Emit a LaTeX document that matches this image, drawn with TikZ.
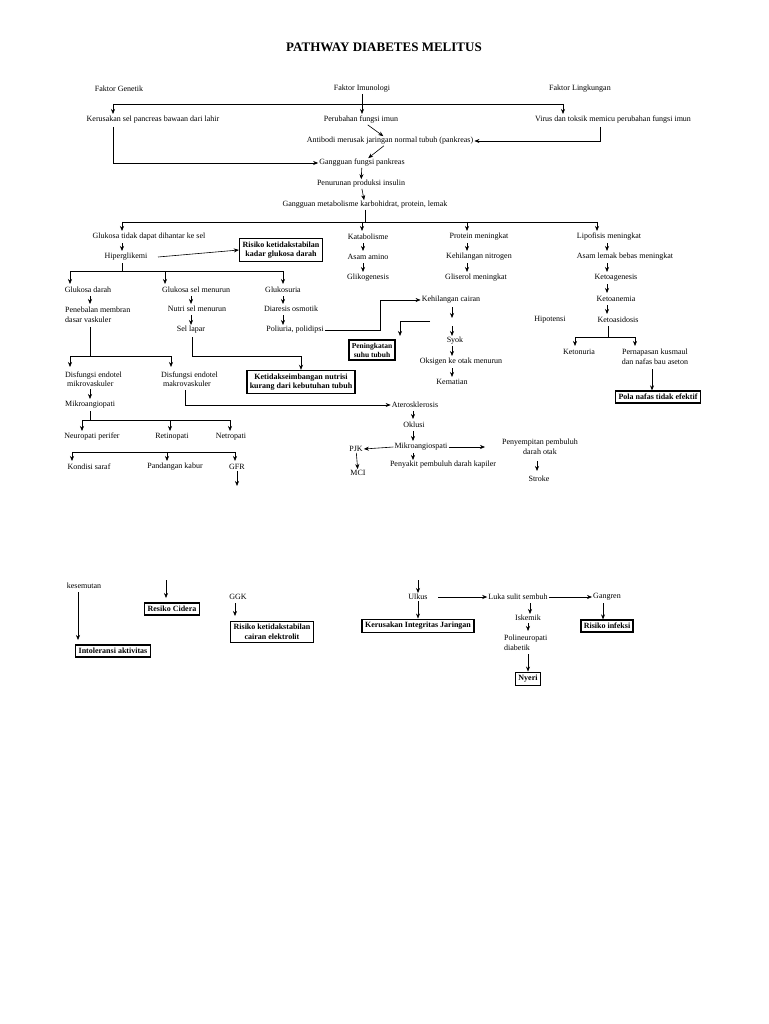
\documentclass[tikz,border=0pt]{standalone}
\usepackage{fontspec}
\setmainfont{Liberation Serif}
\usetikzlibrary{arrows.meta}
\begin{document}
\begin{tikzpicture}[x=1pt,y=-1pt,
  t/.style={font=\fontsize{8}{9.5}\selectfont,inner sep=1pt,align=center},
  tl/.style={t,anchor=west,align=left},
  bx/.style={draw,line width=1.6pt,font=\bfseries\fontsize{8}{9.5}\selectfont,align=center,inner sep=3pt},
  ar/.style={-{Stealth[length=5pt,width=4pt]},line width=0.6pt},
  ln/.style={line width=0.6pt}]
\useasboundingbox[fill=white] (0,0) rectangle (768,1024);
\node[font=\bfseries\fontsize{13}{15}\selectfont] (title) at (384,47) {PATHWAY DIABETES MELITUS};
% top
\node[t] (fg) at (119,89) {Faktor Genetik};
\node[t] (fi) at (362,89) {Faktor Imunologi};
\node[t] (fl) at (580,89) {Faktor Lingkungan};
\node[t] (ker) at (153,120) {Kerusakan sel pancreas bawaan dari lahir};
\node[t] (pfi) at (361,120) {Perubahan fungsi imun};
\node[t] (vir) at (613,120) {Virus dan toksik memicu perubahan fungsi imun};
\node[t] (anti) at (390,141) {Antibodi merusak jaringan normal tubuh (pankreas)};
\node[t] (gfp) at (362,163) {Gangguan fungsi pankreas};
\node[t] (ppi) at (361,184) {Penurunan produksi insulin};
\node[t] (gm) at (365,205) {Gangguan metabolisme karbohidrat, protein, lemak};
\coordinate (h1) at (113,104); \coordinate (h2) at (563,104);
\draw[ln] (h1) -- (h2);
\draw[ar] (h1) -- (113,114);
\draw[ar] (fi) -- (362,114);
\draw[ar] (h2) -- (563,114);
\draw[ar] (113,127) |- (gfp.west);
\draw[ar] (600,127) |- (anti.east);
\draw[ar] (pfi) -- (anti);
\draw[ar] (anti) -- (gfp);
\draw[ar] (gfp) -- (ppi);
\draw[ar] (ppi) -- (gm);
\draw[ln] (gm.south) -- (365,222);
\draw[ln] (122,222) -- (597,222);
% left branch
\node[t] (gtd) at (149,237) {Glukosa tidak dapat dihantar ke sel};
\node[t] (hip) at (126,257) {Hiperglikemi};
\node[bx] (rkg) at (281,250) {Risiko ketidakstabilan\\kadar glukosa darah};
\draw[ar] (122,222) -- (122,231);
\draw[ar] (122,243) -- (122,251);
\draw[ar] (158,257) -- (rkg.west);
\draw[ln] (122,263) -- (122,271);
\draw[ln] (70,271) -- (283,271);
\node[t] (gd) at (88,290) {Glukosa darah};
\node[t] (gsm) at (196,290) {Glukosa sel menurun};
\node[t] (gsu) at (283,290) {Glukosuria};
\draw[ar] (70,271) -- (70,284);
\draw[ar] (165,271) -- (165,284);
\draw[ar] (283,271) -- (283,284);
\node[tl] (pen) at (64,315) {Penebalan membran\\dasar vaskuler};
\node[t] (nsm) at (197,309) {Nutri sel menurun};
\node[t] (sl) at (191,330) {Sel lapar};
\node[t] (dos) at (291,309) {Diaresis osmotik};
\node[t] (pol) at (295,330) {Poliuria, polidipsi};
\draw[ar] (90,296) -- (90,304);
\draw[ar] (191,296) -- (191,304);
\draw[ar] (191,315) -- (191,325);
\draw[ar] (283,296) -- (283,304);
\draw[ar] (283,315) -- (283,325);
\draw[ln] (90,327) -- (90,356);
\draw[ln] (70,356) -- (171,356);
\draw[ar] (70,356) -- (70,367);
\draw[ar] (171,356) -- (171,367);
\node[tl] (dmi) at (64,379) {Disfungsi endotel\\\ mikrovaskuler};
\node[tl] (dma) at (160,379) {Disfungsi endotel\\\ makrovaskuler};
\node[bx] (kn) at (301,382) {Ketidakseimbangan nutrisi\\kurang dari kebutuhan tubuh};
\draw[ar] (192,337) -- (192,356) -| (kn.north);
\node[tl] (mik) at (64,405) {Mikroangiopati};
\draw[ar] (90,389) -- (90,399);
\draw[ln] (90,411) -- (90,420);
\draw[ln] (82,420) -- (230,420);
\node[t] (np) at (92,437) {Neuropati perifer};
\node[t] (ret) at (172,437) {Retinopati};
\node[t] (net) at (231,437) {Netropati};
\draw[ar] (82,420) -- (82,431);
\draw[ar] (170,420) -- (170,431);
\draw[ar] (230,420) -- (230,431);
\draw[ln] (72,452) -- (235,452);
\node[t] (ks) at (89,467) {Kondisi saraf};
\node[t] (pk) at (175,467) {Pandangan kabur};
\node[t] (gfr) at (237,467) {GFR};
\draw[ar] (72,452) -- (72,461);
\draw[ar] (167,452) -- (167,461);
\draw[ar] (235,452) -- (235,461);
\coordinate (gfrend) at (237,486);
\draw[ar] (gfr.south) -- (gfrend);
% aterosklerosis
\node[t] (ate) at (415,405) {Aterosklerosis};
\draw[ar] (185,390) |- (ate.west);
\node[t] (okl) at (414,425) {Oklusi};
\node[t] (mas) at (421,447) {Mikroangiospati};
\node[t] (pjk) at (356,449) {PJK};
\node[t] (mci) at (358,473) {MCI};
\node[t] (ppk) at (443,465) {Penyakit pembuluh darah kapiler};
\node[t] (ppd) at (540,447) {Penyempitan pembuluh\\darah otak};
\node[t] (str) at (539,479) {Stroke};
\draw[ar] (413,411) -- (413,419);
\draw[ar] (413,431) -- (413,441);
\draw[ar] (mas.west) -- (pjk.east);
\draw[ar] (mas.east) -- (485,447);
\draw[ar] (413,453) -- (413,460);
\draw[ar] (pjk) -- (mci);
\draw[ar] (537,461) -- (537,471);
% middle branches
\node[t] (kat) at (368,237) {Katabolisme};
\node[t] (aam) at (368,257) {Asam amino};
\node[t] (gli) at (368,278) {Glikogenesis};
\draw[ar] (362,222) -- (362,231);
\draw[ar] (363,243) -- (363,251);
\draw[ar] (363,263) -- (363,272);
\node[t] (pm) at (479,237) {Protein meningkat};
\node[t] (kni) at (479,257) {Kehilangan nitrogen};
\node[t] (glm) at (476,278) {Gliserol meningkat};
\draw[ar] (467,222) -- (467,231);
\draw[ar] (467,243) -- (467,251);
\draw[ar] (467,263) -- (467,272);
\node[t] (lip) at (609,237) {Lipofisis meningkat};
\node[t] (alb) at (625,257) {Asam lemak bebas meningkat};
\node[t] (kag) at (616,278) {Ketoagenesis};
\node[t] (kan) at (616,299) {Ketoanemia};
\node[t] (kas) at (618,320) {Ketoasidosis};
\node[t] (hipo) at (550,320) {Hipotensi};
\draw[ar] (597,222) -- (597,231);
\draw[ar] (607,243) -- (607,251);
\draw[ar] (607,263) -- (607,272);
\draw[ar] (607,284) -- (607,293);
\draw[ar] (607,305) -- (607,314);
\draw[ln] (608,326) -- (608,337);
\draw[ln] (575,337) -- (635,337);
\node[t] (ketu) at (579,352) {Ketonuria};
\node[t] (per) at (655,357) {Pernapasan kusmaul\\dan nafas bau aseton};
\draw[ar] (575,337) -- (575,346);
\draw[ar] (635,337) -- (635,346);
\node[bx] (pna) at (658,397) {Pola nafas tidak efektif};
\draw[ar] (652,369) -- (pna.north -| 652,0);
% cairan
\node[t] (kc) at (451,300) {Kehilangan cairan};
\draw[ar] (pol.east) -- (380,330) -- (380,300) -- (kc.west);
\node[bx,font=\bfseries\fontsize{7.5}{9}\selectfont] (psb) at (372,350) {Peningkatan\\suhu tubuh};
\draw[ar] (430,321) -- (400,321) -- (400,336);
\node[t] (syk) at (455,341) {Syok};
\node[t] (oko) at (461,362) {Oksigen ke otak menurun};
\node[t] (kem) at (452,382) {Kematian};
\draw[ar] (452,307) -- (452,318);
\draw[ar] (452,326) -- (452,336);
\draw[ar] (452,346) -- (452,356);
\draw[ar] (452,368) -- (452,377);
% bottom left
\node[t] (kes) at (84,586) {kesemutan};
\node[bx] (int) at (113,651) {Intoleransi aktivitas};
\draw[ar] (78,592) -- (78,640);
\coordinate (rctop) at (166,580);
\node[bx] (rc) at (172,609) {Resiko Cidera};
\draw[ar] (rctop) -- (166,598);
\node[t] (ggk) at (238,597) {GGK};
\node[bx] (rce) at (272,632) {Risiko ketidakstabilan\\cairan elektrolit};
\draw[ar] (235,603) -- (235,616);
% bottom right
\node[t] (ulk) at (418,597) {Ulkus};
\node[t] (lss) at (518,597) {Luka sulit sembuh};
\node[t] (gan) at (607,597) {Gangren};
\coordinate (ulktop) at (418,580);
\draw[ar] (ulktop) -- (ulk.north);
\draw[ar] (438,597) -- (lss.west);
\draw[ar] (lss.east) -- (gan.west);
\node[bx] (kij) at (418,626) {Kerusakan Integritas Jaringan};
\draw[ar] (ulk.south) -- (kij.north);
\node[t] (isk) at (528,618) {Iskemik};
\node[tl] (poli) at (503,643) {Polineuropati\\diabetik};
\node[bx] (nye) at (528,679) {Nyeri};
\node[bx] (rin) at (607,626) {Risiko infeksi};
\draw[ar] (530,603) -- (isk.north -| 530,0);
\draw[ar] (528,623) -- (528,631);
\draw[ar] (528,654) -- (nye.north);
\draw[ar] (603,603) -- (rin.north -| 603,0);
\end{tikzpicture}
\end{document}
